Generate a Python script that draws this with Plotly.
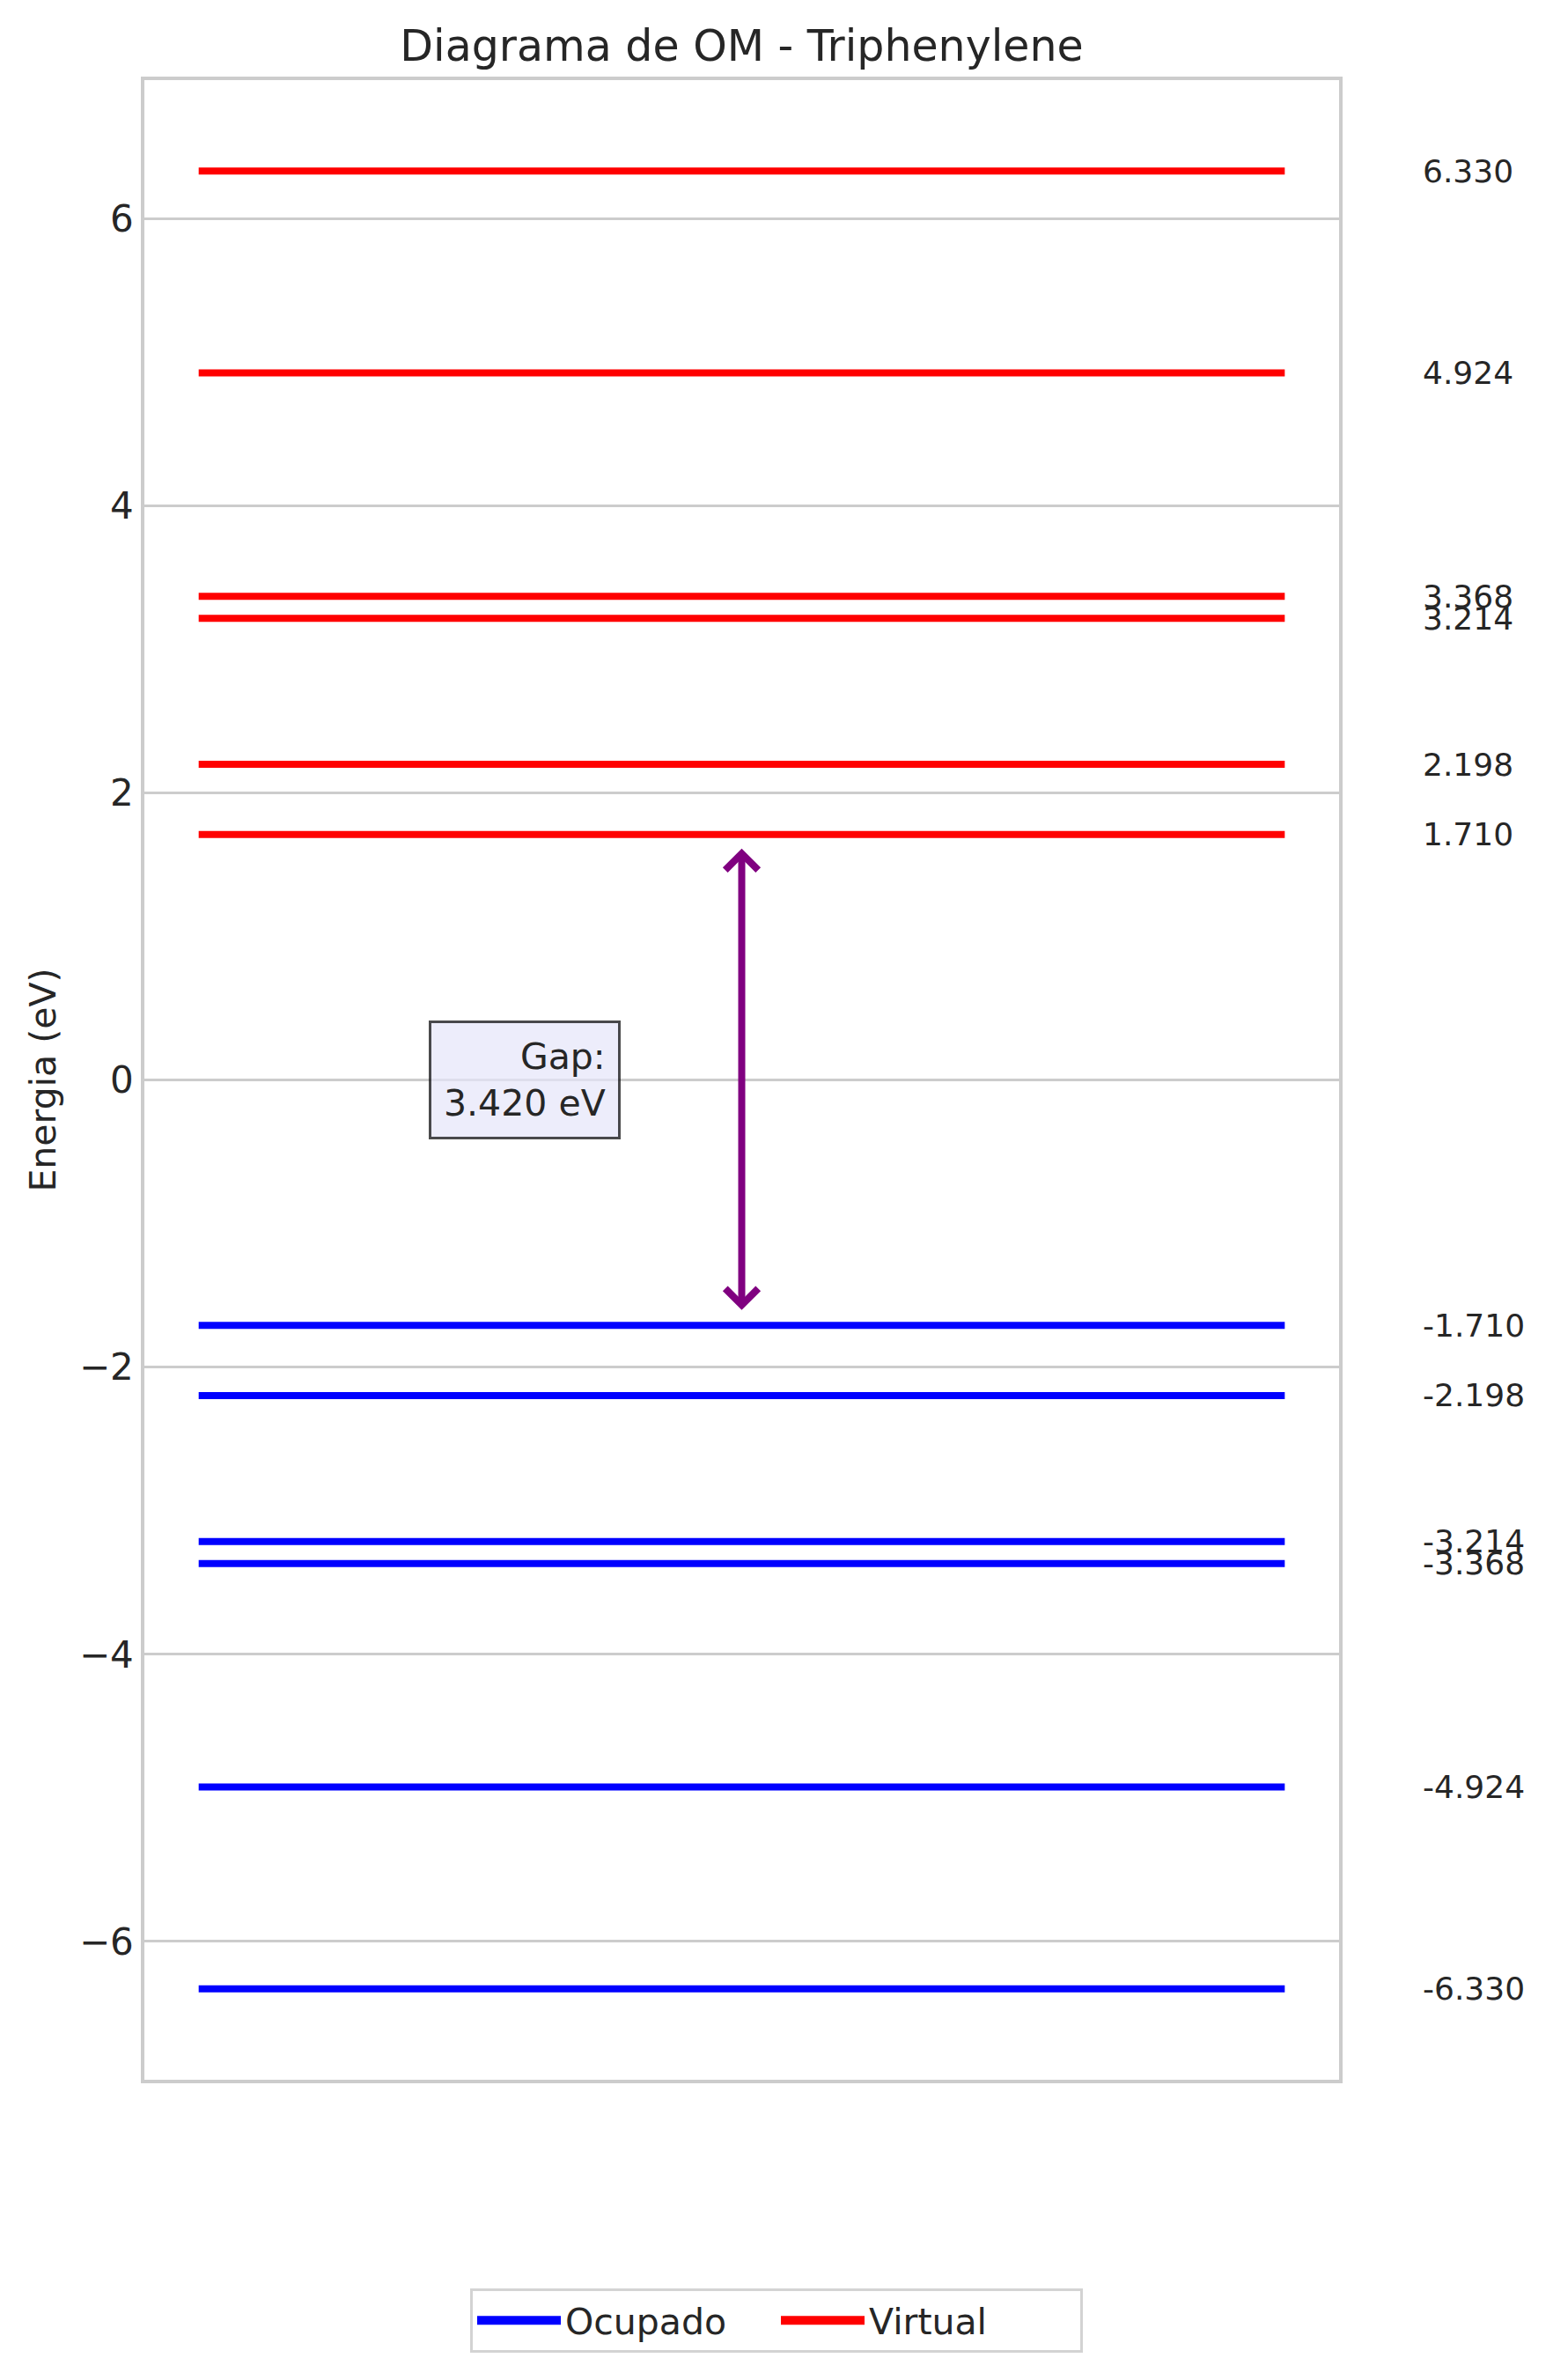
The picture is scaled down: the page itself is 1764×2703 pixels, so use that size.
import plotly.graph_objects as go

# ---- data ----
occupied = [-1.710, -2.198, -3.214, -3.368, -4.924, -6.330]
virtual = [1.710, 2.198, 3.214, 3.368, 4.924, 6.330]
homo = max(occupied)
lumo = min(virtual)
gap = lumo - homo
y_ticks = [-6, -4, -2, 0, 2, 4, 6]
title_text = "Diagrama de OM - Triphenylene"
ylabel = "Energia (eV)"
legend_names = ["Ocupado", "Virtual"]

W, H = 1764, 2703
FONT = "DejaVu Sans"
TXT = "#262626"
X0, X1 = -0.05, 1.05
LABEL_X = 1.125

def seg(vals):
    xs, ys = [], []
    for v in vals:
        xs += [0, 1, None]
        ys += [v, v, None]
    return xs, ys

fig = go.Figure()
for vals, color, name in [(occupied, "blue", legend_names[0]), (virtual, "red", legend_names[1])]:
    xs, ys = seg(vals)
    fig.add_trace(go.Scatter(x=xs, y=ys, mode="lines", line=dict(color=color, width=8),
                             showlegend=False, hoverinfo="skip"))
    fig.add_trace(go.Scatter(x=[None], y=[None], mode="lines", name=name,
                             line=dict(color=color, width=17), showlegend=True))

ann = []
for v in occupied + virtual:
    ann.append(dict(x=(LABEL_X - X0) / (X1 - X0), y=v, xref="paper", yref="y", text=f"{v:.3f}",
                    showarrow=False, xanchor="left", yanchor="middle",
                    font=dict(family=FONT, size=36, color=TXT)))

# gap arrow
ann.append(dict(x=0.5, y=lumo, ax=0.5, ay=homo, xref="x", yref="y", axref="x", ayref="y",
                text="", showarrow=True, arrowhead=4, startarrowhead=4, arrowside="end+start",
                arrowsize=0.9, startarrowsize=0.9, arrowwidth=8, arrowcolor="purple",
                standoff=16, startstandoff=16))
# gap text
ann.append(dict(x=0.3, y=(lumo + homo) / 2, xref="x", yref="y",
                text=f"Gap:<br>{gap:.3f} eV", showarrow=False, align="right",
                xanchor="center", yanchor="middle",
                font=dict(family=FONT, size=41, color=TXT),
                bgcolor="rgba(230,230,250,0.7)", bordercolor="rgba(0,0,0,0.7)",
                borderwidth=3, borderpad=14))

fig.update_layout(
    width=W, height=H,
    margin=dict(l=164, r=W - 1521, t=91, b=H - 2362, autoexpand=False),
    paper_bgcolor="white", plot_bgcolor="white",
    font=dict(family=FONT, color=TXT, size=41),
    title=dict(text=title_text, x=0.5, xref="paper", xanchor="center",
               y=1 - 52 / H, yref="container", yanchor="middle",
               font=dict(family=FONT, size=49, color=TXT)),
    xaxis=dict(range=[X0, X1], showticklabels=False, showgrid=False, zeroline=False,
               showline=True, mirror=True, linecolor="#cccccc", linewidth=3.5, ticks=""),
    yaxis=dict(range=[-6.963, 6.963], tickvals=y_ticks, showgrid=True, gridcolor="#cccccc",
               gridwidth=3, zeroline=False, showline=True, mirror=True, linecolor="#cccccc",
               linewidth=3.5, ticks="",
               tickfont=dict(family=FONT, size=42, color=TXT),
               title=dict(text=ylabel, standoff=15, font=dict(family=FONT, size=41, color=TXT))),
    legend=dict(orientation="h", xref="container", yref="container", x=0.5, y=1 - 2599 / H,
                xanchor="center", yanchor="top", bgcolor="white", bordercolor="#d3d3d3",
                borderwidth=3, itemwidth=95, entrywidth=235,
                font=dict(family=FONT, size=41, color=TXT)),
    annotations=ann,
)

fig.write_html("out.html")
